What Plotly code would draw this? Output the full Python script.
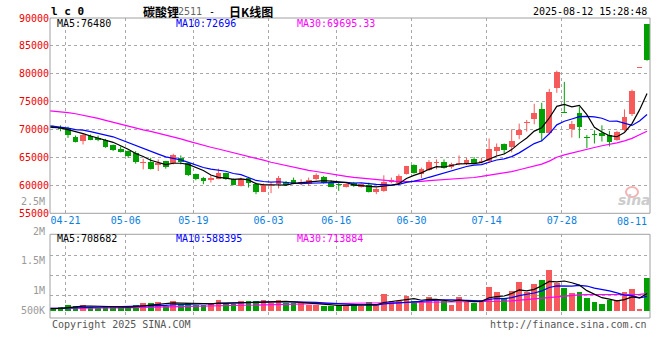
import plotly.graph_objects as go

# ---------------- data ----------------
first_idx = -2   # index of first visible trading day (04-17); 04-21 is index 0

opens = [70700, 70300, 70300, 68640, 67920, 68930, 68520, 68100, 67210, 66440,
         66140, 65850, 64070, 64190, 63650, 64360, 63950, 64840, 64070, 61990,
         61280, 60980, 61220, 62170, 61100, 59910, 61280, 60330, 58850, 59910,
         60330, 60630, 60920, 60210, 60330, 61100, 61580, 60510, 60210, 59800,
         60390, 59800, 60030, 58850, 59020, 60630, 60510, 61990, 63590, 61990,
         62700, 63950, 64190, 63360, 63770, 63770, 64660, 64190, 64360, 66140,
         67390, 66800, 68990, 71190, 71840, 73620, 69470, 77480, 73150, 70060,
         73030, 68580, 69170, 69350, 68990, 68160, 69880, 72730, 81040, 88870]
highs = [70750, 70770, 70530, 68930, 69230, 69110, 68930, 68340, 67330, 66970,
         66260, 66140, 64780, 64960, 64660, 64400, 65670, 65370, 64100, 62110,
         61520, 61810, 63000, 62290, 61220, 61400, 61520, 60510, 60330, 60510,
         61690, 60800, 61400, 61100, 61400, 62170, 61690, 60920, 60510, 60330,
         60630, 60390, 60510, 59620, 61810, 61400, 61990, 63500, 63770, 63180,
         64540, 64660, 64660, 64070, 65370, 64960, 65080, 64960, 68400, 67510,
         67510, 70060, 71070, 71720, 74630, 74810, 77300, 80560, 78550, 71540,
         74040, 69050, 69880, 70770, 69760, 69760, 73620, 77180, 81040, 88870]
lows = [70250, 69700, 68520, 67700, 67330, 68100, 67920, 66740, 66140, 65900,
        64960, 63890, 62880, 62850, 62580, 63000, 63770, 63770, 61690, 60920,
        60210, 60510, 61100, 60980, 60030, 59800, 59620, 58430, 58800, 58610,
        59440, 59910, 60210, 60030, 59910, 60980, 60330, 59740, 59020, 59620,
        59740, 59620, 58730, 58430, 58850, 60390, 60390, 61950, 62110, 61280,
        62580, 62880, 63000, 63000, 63590, 63650, 63890, 63950, 64070, 65250,
        65610, 65910, 68280, 69650, 70950, 67870, 69290, 76590, 73030, 68580,
        68460, 66680, 67510, 67870, 66980, 67980, 69760, 72430, 81040, 82340]
closes = [70300, 70180, 69000, 67750, 69110, 68220, 68100, 66860, 66320, 65970,
          65190, 64190, 64250, 62880, 64070, 63300, 65370, 64250, 61870, 61100,
          60800, 61280, 62170, 61100, 60090, 61220, 60390, 58850, 60030, 60090,
          61280, 60030, 60330, 60690, 60920, 61870, 60510, 59800, 60030, 60210,
          59910, 60210, 58850, 59440, 60630, 60980, 61690, 63470, 62170, 62880,
          64190, 64070, 63180, 63770, 63950, 64480, 64070, 64360, 66560, 66860,
          66320, 67980, 69940, 71370, 73030, 69350, 76700, 80400, 73030, 70950,
          70540, 68460, 69060, 68810, 67690, 69590, 72320, 77000, 81040, 82460]
volumes = [99000, 165000, 235000, 194000, 235000, 140000, 124000, 194000, 140000, 140000,
           124000, 235000, 330000, 317000, 371000, 194000, 412000, 276000, 330000, 235000,
           235000, 330000, 441000, 330000, 276000, 400000, 400000, 400000, 441000, 305000,
           441000, 330000, 305000, 305000, 235000, 235000, 194000, 206000, 235000, 235000,
           235000, 181000, 346000, 235000, 688000, 400000, 400000, 606000, 400000, 346000,
           564000, 400000, 400000, 235000, 564000, 371000, 305000, 441000, 989000, 783000,
           511000, 812000, 1195000, 783000, 1100000, 1265000, 1677000, 1129000, 948000, 742000,
           783000, 536000, 346000, 276000, 441000, 441000, 783000, 894000, 70000, 1360000]
# closes / volumes of the 30 sessions before the first visible one (only feed the MAs)
pre_closes = [73500, 73750, 73830, 74260, 76310, 77200, 77000, 77360, 76640, 77000,
              76800, 73910, 72350, 71490, 73640, 73110, 75810, 74690, 73750, 73100,
              72080, 71000, 71500, 70500, 69870, 71150, 70680, 70500, 69250, 71270]
pre_volumes = [80000, 72000, 85000, 78000, 96000, 88000, 104000, 91000, 83000, 97000,
               110000, 86000, 79000, 93000, 118000, 102000, 88000, 95000, 126000, 108000,
               99000, 87000, 112000, 134000, 96000, 81000, 76000, 69000, 84000, 72000]

tick_idx = [0, 8, 17, 27, 36, 46, 56, 66, 76]
tick_labels = ["04-21", "05-06", "05-19", "06-03", "06-16", "06-30", "07-14", "07-28", "08-11"]
price_ticks = [55000, 60000, 65000, 70000, 75000, 80000, 85000, 90000]
vol_axis_labels = ["2.5M", "2M", "1.5M", "1M", "500K"]

header_ma = ["MA5:76480", "MA10:72696", "MA30:69695.33"]
vol_header_ma = ["MA5:708682", "MA10:588395", "MA30:713884"]

# ---------------- helpers ----------------
W, H = 660, 360
def fx(p):
    return p / W
def fy(p):
    return 1 - p / H

RED = "#f65a5a"
GREEN = "#00a000"
FONT = "DejaVu Sans Mono"

idx = list(range(first_idx, first_idx + len(closes)))
all_idx = list(range(first_idx - len(pre_closes), first_idx + len(closes)))
all_c = pre_closes + closes
all_v = pre_volumes + volumes

def moving_avg(vals, n):
    xs, ys = [], []
    for j in range(n - 1, len(vals)):
        xs.append(all_idx[j])
        ys.append(sum(vals[j - n + 1:j + 1]) / n)
    return xs, ys

up = [c >= o for o, c in zip(opens, closes)]
colors = [RED if u else GREEN for u in up]

fig = go.Figure()

# candle bodies
min_body = 180
fig.add_trace(go.Bar(
    x=idx, base=[min(o, c) for o, c in zip(opens, closes)],
    y=[max(abs(c - o), min_body) for o, c in zip(opens, closes)],
    width=0.76, marker=dict(color=colors, line=dict(width=0)),
    xaxis="x", yaxis="y", hoverinfo="skip"))

# wicks
for col, flag in ((RED, True), (GREEN, False)):
    wx, wy = [], []
    for i, o, h, l, c, u in zip(idx, opens, highs, lows, closes, up):
        if u == flag:
            wx += [i, i, None]
            wy += [l, h, None]
    fig.add_trace(go.Scatter(x=wx, y=wy, mode="lines", line=dict(color=col, width=1),
                             xaxis="x", yaxis="y", hoverinfo="skip"))

# price MAs
for n, col in ((30, "#ff00ff"), (10, "#0000ff"), (5, "#000000")):
    mx, my = moving_avg(all_c, n)
    fig.add_trace(go.Scatter(x=mx, y=my, mode="lines", line=dict(color=col, width=1.2),
                             xaxis="x", yaxis="y", hoverinfo="skip"))

# volume bars
fig.add_trace(go.Bar(x=idx, y=volumes, width=0.76,
                     marker=dict(color=colors, line=dict(width=0)),
                     xaxis="x2", yaxis="y2", hoverinfo="skip"))
for n, col in ((30, "#ff00ff"), (10, "#0000ff"), (5, "#000000")):
    mx, my = moving_avg(all_v, n)
    fig.add_trace(go.Scatter(x=mx, y=my, mode="lines", line=dict(color=col, width=1.2),
                             xaxis="x2", yaxis="y2", hoverinfo="skip"))

# ---------------- layout ----------------
x_left, x_right = 50, 650
main_top, main_bot = 18, 213.3
vol_top, vol_bot, vol_zero = 234.3, 318, 310.7
spacing = 7.52
c0 = 68.0  # pixel centre of index 0
xr = [(x_left - c0) / spacing, (x_right - c0) / spacing]
k = 41200  # volume per pixel
vol_range = [-(vol_bot - vol_zero) * k, (vol_zero - vol_top) * k]
vol_grid = [(vol_zero - p) * k for p in (255, 275, 295.3)]

grid = dict(showgrid=True, gridcolor="#a8a8a8", gridwidth=1, griddash="dot",
            zeroline=False, showline=False, ticks="", automargin=False)

fig.update_layout(
    template="none", width=W, height=H, margin=dict(l=0, r=0, t=0, b=0),
    paper_bgcolor="white", plot_bgcolor="white", showlegend=False,
    hovermode=False, bargap=0,
    font=dict(family=FONT, size=10, color="#000"),
    xaxis=dict(domain=[fx(x_left), fx(x_right)], range=xr, anchor="y",
               tickvals=[t - 0.33 for t in tick_idx[:-1]], ticktext=tick_labels[:-1],
               tickfont=dict(color="#0a80e0", size=10, family=FONT), **grid),
    xaxis2=dict(domain=[fx(x_left), fx(x_right)], range=xr, anchor="y2", matches="x",
                tickvals=[t - 0.33 for t in tick_idx[:-1]], showticklabels=False, **grid),
    yaxis=dict(domain=[fy(main_bot), fy(main_top)], range=[55000, 90000], anchor="x",
               tickvals=price_ticks, ticktext=[str(v) for v in price_ticks],
               tickfont=dict(color="#ee0000", size=10, family=FONT), **grid),
    yaxis2=dict(domain=[fy(vol_bot), fy(vol_top)], range=vol_range, anchor="x2",
                tickvals=vol_grid, showticklabels=False, **grid),
)

# frames
for t, b in ((main_top, main_bot), (vol_top, vol_bot)):
    fig.add_shape(type="rect", xref="paper", yref="paper",
                  x0=fx(x_left), x1=fx(x_right), y0=fy(b), y1=fy(t),
                  line=dict(color="#a0a0a0", width=1), layer="above")

def ann(text, x, y, color="#000", size=10, xanchor="left", family=FONT, **kw):
    fig.add_annotation(text=text, x=fx(x), y=fy(y), xref="paper", yref="paper",
                       xanchor=xanchor, yanchor="middle", showarrow=False,
                       font=dict(color=color, size=size, family=family), **kw)

# header
ann("<b>l c 0</b>", 49, 11, size=11)
ann("<b>碳酸锂</b>", 141, 11.3, size=12, family="Noto Sans CJK SC")
ann("2511", 176.5, 11.3, color="#666", size=10)
ann("-", 207, 11.3, size=10)
ann("<b>日K线图</b>", 227, 11.3, size=12, family="Noto Sans CJK SC")
ann("2025-08-12 15:28:48", 649, 11.7, xanchor="right")

# MA legends
for txt, x, col in zip(header_ma, (55, 174, 295), ("#000", "#0000ff", "#ff00ff")):
    ann(txt, x, 23.7, color=col)
for txt, x, col in zip(vol_header_ma, (55, 174, 295), ("#000", "#0000ff", "#ff00ff")):
    ann(txt, x, 238.7, color=col)

# last date label (no grid line)
ann(tick_labels[-1], 649, 221.5, color="#0a80e0", xanchor="right")

# volume axis labels
for txt, y in zip(vol_axis_labels, (201, 231, 260, 290.7, 310.7)):
    ann(txt, 46.5, y, color="#9a9a9a", xanchor="right")

# footer
ann("Copyright 2025 SINA.COM", 50, 324, color="#555")
ann("http://finance.sina.com.cn", 649, 324, color="#555", xanchor="right")

# sina watermark
fig.add_shape(type="circle", xref="paper", yref="paper",
              x0=fx(626), x1=fx(638), y0=fy(197), y1=fy(187),
              line=dict(color="#f2b4b4", width=2))
ann("<b><i>sina</i></b>", 634, 200, color="#cccccc", size=14, xanchor="center",
    family="DejaVu Sans")

fig.write_html("out.html", config={"displayModeBar": False, "staticPlot": True},
               post_script="document.body.style.margin='0';document.body.style.overflow='hidden';")
